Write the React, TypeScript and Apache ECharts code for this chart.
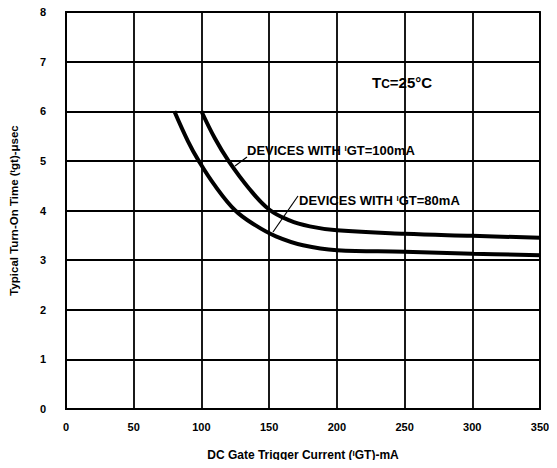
import React, { useEffect, useRef } from "react";
import * as echarts from "echarts";

const xTicks = [0, 50, 100, 150, 200, 250, 300, 350];
const yTicks = [0, 1, 2, 3, 4, 5, 6, 7, 8];

// Devices with IGT = 100 mA
const curve100X = [100, 110, 120, 135, 150, 165, 180, 200, 250, 300, 350];
const curve100Y = [6.0, 5.45, 5.0, 4.45, 4.02, 3.8, 3.68, 3.6, 3.53, 3.49, 3.45];

// Devices with IGT = 80 mA
const curve80X = [80, 90, 98, 110, 125, 140, 155, 175, 200, 250, 300, 350];
const curve80Y = [6.0, 5.4, 5.0, 4.5, 4.0, 3.7, 3.48, 3.3, 3.2, 3.17, 3.13, 3.1];

const FONT = "Liberation Sans, Arial, sans-serif";

export default function App() {
  const ref = useRef<HTMLDivElement>(null);
  useEffect(() => {
    if (!ref.current) return;
    const chart = echarts.init(ref.current, undefined, { renderer: "svg" });
    const pair = (xs: number[], ys: number[]) => xs.map((x, i) => [x, ys[i]]);
    const annRich = {
      a: { fontSize: 13, fontWeight: "bold", fill: "#000", fontFamily: FONT, verticalAlign: "bottom" },
      s: { fontSize: 8, fontWeight: "bold", fill: "#000", fontFamily: FONT, verticalAlign: "top" },
    };
    chart.setOption({
      animation: false,
      backgroundColor: "#fff",
      grid: {
        left: 66,
        right: 17,
        top: 12,
        bottom: 59,
        show: true,
        borderColor: "#000",
        borderWidth: 1.8,
      },
      xAxis: {
        type: "value",
        min: xTicks[0],
        max: xTicks[xTicks.length - 1],
        interval: 50,
        name: "{a|DC Gate Trigger Current (}{s|I}{a|GT)-mA}",
        nameLocation: "middle",
        nameGap: 40,
        nameTextStyle: {
          rich: {
            a: { fontSize: 12, fontWeight: "bold", color: "#000", fontFamily: FONT, verticalAlign: "bottom" },
            s: { fontSize: 8, fontWeight: "bold", color: "#000", fontFamily: FONT, verticalAlign: "top" },
          },
        },
        axisLine: { show: true, lineStyle: { color: "#000", width: 1.8 } },
        axisTick: { show: false },
        splitLine: { show: true, lineStyle: { color: "#000", width: 1.8 } },
        axisLabel: { color: "#000", fontSize: 11, fontWeight: "bold", fontFamily: FONT, margin: 12 },
      },
      yAxis: {
        type: "value",
        min: yTicks[0],
        max: yTicks[yTicks.length - 1],
        interval: 1,
        name: "{a|Typical Turn-On Time (}{s|t}{a|gt)-μsec}",
        nameLocation: "middle",
        nameGap: 46,
        nameRotate: 90,
        nameTextStyle: {
          rich: {
            a: { fontSize: 11.5, fontWeight: "bold", color: "#000", fontFamily: FONT, verticalAlign: "bottom" },
            s: { fontSize: 7.5, fontWeight: "bold", color: "#000", fontFamily: FONT, verticalAlign: "top" },
          },
        },
        axisLine: { show: true, lineStyle: { color: "#000", width: 1.8 } },
        axisTick: { show: false },
        splitLine: { show: true, lineStyle: { color: "#000", width: 1.8 } },
        axisLabel: { color: "#000", fontSize: 11, fontWeight: "bold", fontFamily: FONT, margin: 20 },
      },
      series: [
        {
          name: "IGT=100mA",
          type: "line",
          data: pair(curve100X, curve100Y),
          smooth: 0.4,
          showSymbol: false,
          lineStyle: { color: "#000", width: 4 },
        },
        {
          name: "IGT=80mA",
          type: "line",
          data: pair(curve80X, curve80Y),
          smooth: 0.4,
          showSymbol: false,
          lineStyle: { color: "#000", width: 4 },
        },
      ],
      graphic: [
        {
          type: "text",
          left: 247,
          top: 144,
          style: { text: "{a|DEVICES WITH }{s|I}{a|GT=100mA}", rich: annRich },
        },
        {
          type: "line",
          shape: { x1: 247, y1: 157, x2: 235, y2: 166 },
          style: { stroke: "#000", lineWidth: 1.2 },
        },
        {
          type: "text",
          left: 299,
          top: 194,
          style: { text: "{a|DEVICES WITH }{s|I}{a|GT=80mA}", rich: annRich },
        },
        {
          type: "line",
          shape: { x1: 298, y1: 196, x2: 273, y2: 232 },
          style: { stroke: "#000", lineWidth: 1.2 },
        },
        {
          type: "text",
          left: 372,
          top: 75,
          style: {
            text: "{a|T}{c|C}{a|=25°C}",
            rich: {
              a: { fontSize: 15, fontWeight: "bold", fill: "#000", fontFamily: FONT, verticalAlign: "top" },
              c: { fontSize: 12, fontWeight: "bold", fill: "#000", fontFamily: FONT, verticalAlign: "bottom" },
            },
          },
        },
      ],
    });
    return () => chart.dispose();
  }, []);
  return <div ref={ref} style={{ width: 557, height: 468, margin: -8 }} />;
}
